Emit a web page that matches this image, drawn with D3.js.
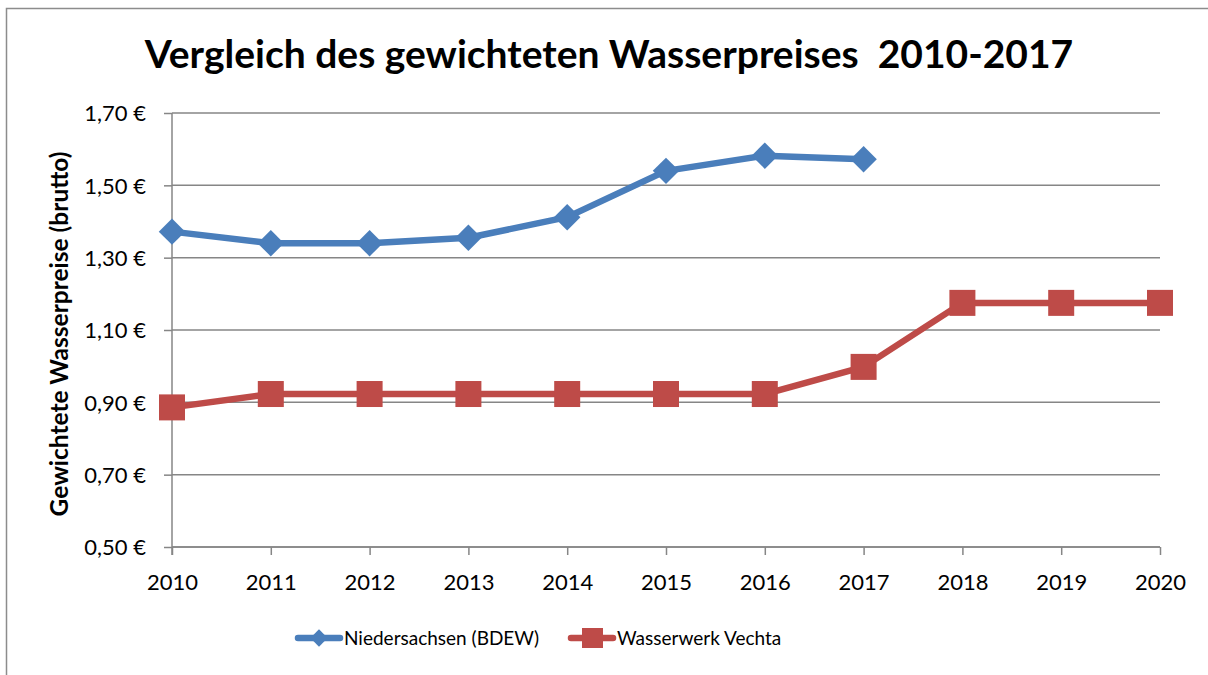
<!DOCTYPE html>
<html>
<head>
<meta charset="utf-8">
<script src="https://cdn.jsdelivr.net/npm/d3@7"></script>
<style>
  body { margin: 0; background: #fff; }
  svg text { font-family: Lato, "Open Sans", sans-serif; fill: #000; }
</style>
</head>
<body>
<div id="chart"></div>
<script>
// data
const years = ["2010", "2011", "2012", "2013", "2014", "2015", "2016", "2017", "2018", "2019", "2020"];
const niedersachsen = [1.372, 1.34, 1.34, 1.355, 1.412, 1.54, 1.582, 1.572];
const vechta = [0.886, 0.923, 0.923, 0.923, 0.923, 0.923, 0.923, 0.998, 1.175, 1.175, 1.175];
const yTicks = [0.5, 0.7, 0.9, 1.1, 1.3, 1.5, 1.7];
const seriesNames = ["Niedersachsen (BDEW)", "Wasserwerk Vechta"];
const colors = ["#4a7ebb", "#be4b48"];

const W = 1208, H = 675;
const margin = {top: 113, right: 48, bottom: 128, left: 172};
const width = W - margin.left - margin.right;
const height = H - margin.top - margin.bottom;

const svg = d3.select("#chart").append("svg")
    .attr("width", W)
    .attr("height", H);

// chart border
svg.append("rect")
    .attr("x", 6.5).attr("y", 8.5)
    .attr("width", 1220).attr("height", 700)
    .attr("fill", "none")
    .attr("stroke", "#8c8c8c")
    .attr("stroke-width", 1.5);

svg.append("text")
    .attr("x", 609).attr("y", 68)
    .attr("text-anchor", "middle")
    .style("font-size", "39px")
    .style("font-weight", "bold")
    .attr("xml:space", "preserve")
    .text("Vergleich des gewichteten Wasserpreises  2010-2017");

const g = svg.append("g").attr("transform", `translate(${margin.left},${margin.top})`);

const x = d3.scalePoint().domain(years).range([0, width]);
const y = d3.scaleLinear().domain([0.5, 1.7]).range([height, 0]);

// gridlines
g.selectAll(".grid").data(yTicks).join("line")
    .attr("x1", 0).attr("x2", width)
    .attr("y1", d => y(d)).attr("y2", d => y(d))
    .attr("stroke", "#868686").attr("stroke-width", 1.5);

// y axis
const yAxis = g.append("g")
    .call(d3.axisLeft(y).tickValues(yTicks).tickSize(8).tickPadding(18)
        .tickFormat(d => d3.format(".2f")(d).replace(".", ",") + " €"));
yAxis.select(".domain").attr("stroke", "#868686").attr("stroke-width", 1.5)
    .attr("d", `M0,${height + 8}V0`);
yAxis.selectAll(".tick line").attr("stroke", "#868686").attr("stroke-width", 1.5);
yAxis.selectAll("text").style("font-size", "22px").attr("dy", "0.35em")
    .style("font-family", "Lato, sans-serif");

// x axis
const xAxis = g.append("g")
    .attr("transform", `translate(0,${height})`)
    .call(d3.axisBottom(x).tickSize(8).tickPadding(19));
xAxis.select(".domain").attr("stroke", "#868686").attr("stroke-width", 1.5)
    .attr("d", `M0,0H${width}`);
xAxis.selectAll(".tick line").attr("stroke", "#868686").attr("stroke-width", 1.5);
xAxis.selectAll("text").style("font-size", "22px")
    .style("font-family", "Lato, sans-serif");

// y axis title
svg.append("text")
    .attr("transform", "translate(68,334) rotate(-90)")
    .attr("text-anchor", "middle")
    .style("font-size", "24.5px")
    .style("font-weight", "bold")
    .text("Gewichtete Wasserpreise (brutto)");

const line = d3.line().x((d, i) => x(years[i])).y(d => y(d));

// series 1: diamonds
g.append("path").datum(niedersachsen)
    .attr("d", line)
    .attr("fill", "none").attr("stroke", colors[0])
    .attr("stroke-width", 6.5).attr("stroke-linejoin", "round");
const diamond = d3.symbol().type(d3.symbolSquare).size(350);
g.selectAll(".dia").data(niedersachsen).join("path")
    .attr("d", diamond)
    .attr("transform", (d, i) => `translate(${x(years[i])},${y(d)}) rotate(45)`)
    .attr("fill", colors[0]);

// series 2: squares
g.append("path").datum(vechta)
    .attr("d", line)
    .attr("fill", "none").attr("stroke", colors[1])
    .attr("stroke-width", 6.5).attr("stroke-linejoin", "round");
g.selectAll(".sq").data(vechta).join("rect")
    .attr("x", (d, i) => x(years[i]) - 13)
    .attr("y", d => y(d) - 13)
    .attr("width", 26).attr("height", 26)
    .attr("fill", colors[1]);

// legend
const legend = svg.append("g").attr("transform", "translate(0,638)");
const legX = [298, 571];
seriesNames.forEach((name, i) => {
    const lg = legend.append("g").attr("transform", `translate(${legX[i]},0)`);
    lg.append("line").attr("x1", 0).attr("x2", 42).attr("y1", 0).attr("y2", 0)
        .attr("stroke", colors[i]).attr("stroke-width", 6.5).attr("stroke-linecap", "round");
    if (i === 0) {
        lg.append("path").attr("d", d3.symbol().type(d3.symbolSquare).size(150))
            .attr("transform", "translate(21,0) rotate(45)").attr("fill", colors[i]);
    } else {
        lg.append("rect").attr("x", 11).attr("y", -10).attr("width", 21).attr("height", 20)
            .attr("fill", colors[i]);
    }
    lg.append("text").attr("x", 46).attr("y", 0).attr("dy", "0.35em")
        .style("font-size", "19px")
        .text(name);
});
</script>
</body>
</html>
